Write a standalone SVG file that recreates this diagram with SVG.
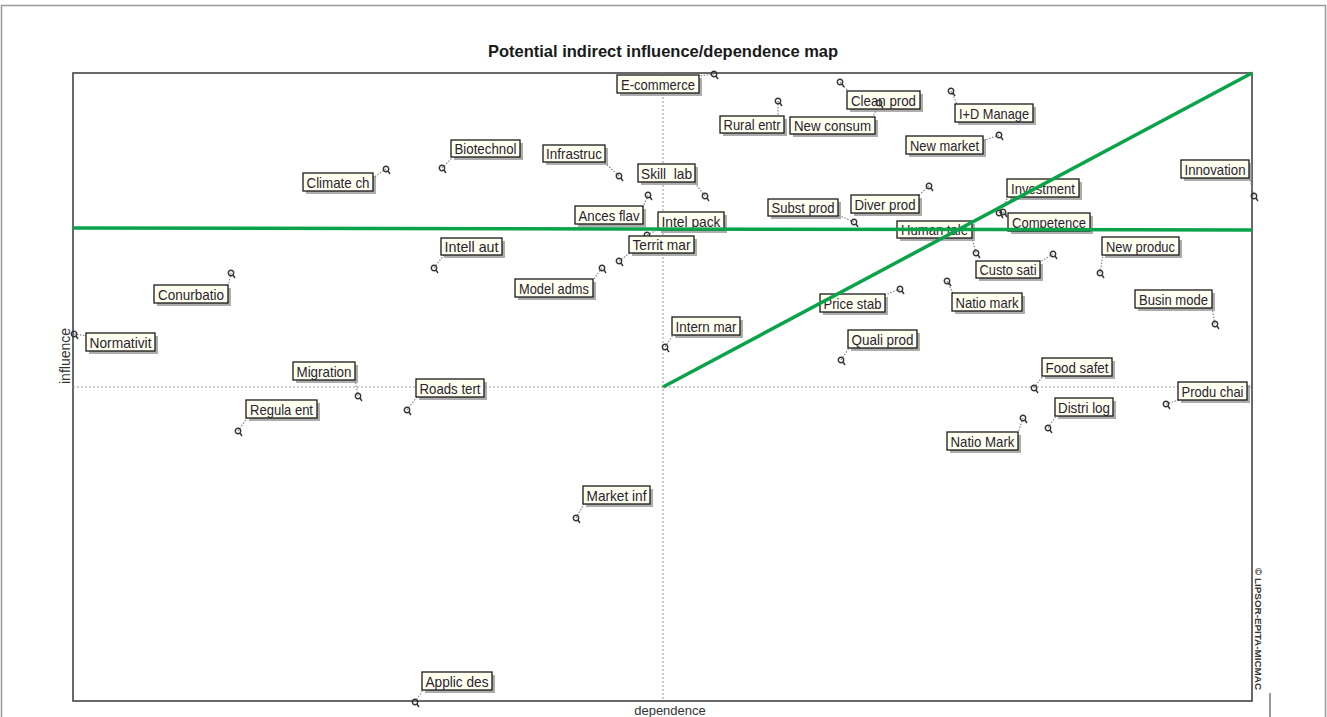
<svg xmlns="http://www.w3.org/2000/svg" width="1327" height="717" viewBox="0 0 1327 717">
<style>
.bx{fill:#fffff0;stroke:#1a1a1a;stroke-width:1.3}
.sh{fill:#8a8a8a;opacity:0.7}
.lb{font-family:"Liberation Sans",Arial,sans-serif;font-size:15px;fill:#2a2230;text-anchor:middle}
.pin{fill:none;stroke:#333;stroke-width:1.4}
.ld{stroke:#888;stroke-width:1.2;stroke-dasharray:1.5,1.5;fill:none}
.grid{stroke:#999;stroke-width:1;stroke-dasharray:2,2}
.green{stroke:#0aa34a;stroke-width:3.5;fill:none}
.ax{font-family:"Liberation Sans",Arial,sans-serif;fill:#333}
</style>
<defs>
<g id="pin"><circle class="pin" cx="0" cy="0" r="2.7"/><line class="pin" x1="2" y1="2" x2="4" y2="5"/></g>
</defs>
<rect width="1327" height="717" fill="#ffffff"/>
<g id="page">
<path d="M1.5 717 V5.5 H1325.5 V717" fill="none" stroke="#999" stroke-width="1.5"/>
<line x1="1270" y1="693" x2="1270" y2="717" stroke="#333" stroke-width="1"/>
<text x="663" y="57" text-anchor="middle" font-family="Liberation Sans,Arial,sans-serif" font-size="16.5" font-weight="bold" fill="#1a1a1a">Potential indirect influence/dependence map</text>
<rect x="73" y="73" width="1179" height="628" fill="none" stroke="#444" stroke-width="1.6"/>
<line class="grid" x1="663" y1="73" x2="663" y2="701"/>
<line class="grid" x1="73" y1="387" x2="1252" y2="387"/>
<text class="ax" transform="translate(70,356) rotate(-90)" text-anchor="middle" font-size="14">influence</text>
<text class="ax" x="670" y="715" text-anchor="middle" font-size="13">dependence</text>
<text transform="translate(1255,568) rotate(90)" font-family="Liberation Sans,Arial,sans-serif" font-size="9" font-weight="bold" fill="#333" textLength="122" lengthAdjust="spacingAndGlyphs">© LIPSOR-EPITA-MICMAC</text>
</g>
<g id="connectors">
<line class="ld" x1="714" y1="74" x2="699" y2="76"/>
<line class="ld" x1="840" y1="82" x2="848" y2="91"/>
<line class="ld" x1="778" y1="101" x2="778" y2="116"/>
<line class="ld" x1="879" y1="103" x2="873" y2="117"/>
<line class="ld" x1="951" y1="91" x2="957" y2="104"/>
<line class="ld" x1="999" y1="135" x2="983" y2="141"/>
<line class="ld" x1="442" y1="168" x2="453" y2="157"/>
<line class="ld" x1="619" y1="176" x2="604" y2="162"/>
<line class="ld" x1="386" y1="169" x2="373" y2="178"/>
<line class="ld" x1="705" y1="196" x2="694" y2="182"/>
<line class="ld" x1="648" y1="195" x2="643" y2="207"/>
<line class="ld" x1="647" y1="235" x2="659" y2="229"/>
<line class="ld" x1="619" y1="261" x2="630" y2="253"/>
<line class="ld" x1="434" y1="268" x2="444" y2="255"/>
<line class="ld" x1="602" y1="268" x2="593" y2="280"/>
<line class="ld" x1="854" y1="222" x2="838" y2="215"/>
<line class="ld" x1="929" y1="186" x2="918" y2="196"/>
<line class="ld" x1="976" y1="253" x2="972" y2="238"/>
<line class="ld" x1="999" y1="213" x2="1008" y2="197"/>
<line class="ld" x1="1003" y1="212" x2="1008" y2="215"/>
<line class="ld" x1="1254" y1="196" x2="1250" y2="178"/>
<line class="ld" x1="1100" y1="273" x2="1103" y2="255"/>
<line class="ld" x1="1053" y1="254" x2="1040" y2="262"/>
<line class="ld" x1="947" y1="281" x2="953" y2="293"/>
<line class="ld" x1="900" y1="289" x2="885" y2="295"/>
<line class="ld" x1="841" y1="360" x2="849" y2="348"/>
<line class="ld" x1="1215" y1="324" x2="1212" y2="308"/>
<line class="ld" x1="1034" y1="388" x2="1043" y2="376"/>
<line class="ld" x1="1166" y1="404" x2="1179" y2="400"/>
<line class="ld" x1="1048" y1="428" x2="1056" y2="416"/>
<line class="ld" x1="1023" y1="418" x2="1018" y2="433"/>
<line class="ld" x1="665" y1="347" x2="673" y2="335"/>
<line class="ld" x1="231" y1="273" x2="228" y2="286"/>
<line class="ld" x1="74" y1="334" x2="87" y2="336"/>
<line class="ld" x1="358" y1="396" x2="355" y2="380"/>
<line class="ld" x1="238" y1="431" x2="247" y2="418"/>
<line class="ld" x1="407" y1="410" x2="417" y2="397"/>
<line class="ld" x1="576" y1="518" x2="584" y2="504"/>
<line class="ld" x1="415" y1="702" x2="423" y2="690"/>
</g>
<g id="nodes">
<g id="n-ecommerce"><use href="#pin" x="714" y="74"/><rect class="sh" x="620" y="78" width="82" height="18"/><rect class="bx" x="617" y="75" width="82" height="18"/><text class="lb" x="658" y="89.5" textLength="74" lengthAdjust="spacingAndGlyphs">E-commerce</text></g>
<g id="n-cleanprod"><use href="#pin" x="840" y="82"/><rect class="sh" x="850" y="94" width="73" height="18"/><rect class="bx" x="847" y="91" width="73" height="18"/><text class="lb" x="883.5" y="105.5" textLength="65" lengthAdjust="spacingAndGlyphs">Clean prod</text></g>
<g id="n-ruralentr"><use href="#pin" x="778" y="101"/><rect class="sh" x="723" y="119" width="64" height="17"/><rect class="bx" x="720" y="116" width="64" height="17"/><text class="lb" x="752" y="130" textLength="57" lengthAdjust="spacingAndGlyphs">Rural entr</text></g>
<g id="n-newconsum"><use href="#pin" x="879" y="103"/><rect class="sh" x="793" y="120" width="85" height="17"/><rect class="bx" x="790" y="117" width="85" height="17"/><text class="lb" x="832.5" y="131" textLength="77" lengthAdjust="spacingAndGlyphs">New consum</text></g>
<g id="n-idmanage"><use href="#pin" x="951" y="91"/><rect class="sh" x="958" y="107" width="78" height="18"/><rect class="bx" x="955" y="104" width="78" height="18"/><text class="lb" x="994" y="118.5" textLength="70" lengthAdjust="spacingAndGlyphs">I+D Manage</text></g>
<g id="n-newmarket"><use href="#pin" x="999" y="135"/><rect class="sh" x="909" y="139" width="77" height="18"/><rect class="bx" x="906" y="136" width="77" height="18"/><text class="lb" x="944.5" y="150.5" textLength="69" lengthAdjust="spacingAndGlyphs">New market</text></g>
<g id="n-biotechnol"><use href="#pin" x="442" y="168"/><rect class="sh" x="454" y="143" width="69" height="17"/><rect class="bx" x="451" y="140" width="69" height="17"/><text class="lb" x="485.5" y="154" textLength="62" lengthAdjust="spacingAndGlyphs">Biotechnol</text></g>
<g id="n-infrastruc"><use href="#pin" x="619" y="176"/><rect class="sh" x="546" y="148" width="62" height="17"/><rect class="bx" x="543" y="145" width="62" height="17"/><text class="lb" x="574" y="159" textLength="56" lengthAdjust="spacingAndGlyphs">Infrastruc</text></g>
<g id="n-climatech"><use href="#pin" x="386" y="169"/><rect class="sh" x="306" y="176" width="70" height="18"/><rect class="bx" x="303" y="173" width="70" height="18"/><text class="lb" x="338" y="187.5" textLength="63" lengthAdjust="spacingAndGlyphs">Climate ch</text></g>
<g id="n-skilllab"><use href="#pin" x="705" y="196"/><rect class="sh" x="641" y="167" width="57" height="18"/><rect class="bx" x="638" y="164" width="57" height="18"/><text class="lb" x="666.5" y="178.5" textLength="51" lengthAdjust="spacingAndGlyphs" xml:space="preserve">Skill  lab</text></g>
<g id="n-ancesflav"><use href="#pin" x="648" y="195"/><rect class="sh" x="578" y="209" width="68" height="18"/><rect class="bx" x="575" y="206" width="68" height="18"/><text class="lb" x="609" y="220.5" textLength="61" lengthAdjust="spacingAndGlyphs">Ances flav</text></g>
<g id="n-intelpack"><use href="#pin" x="647" y="235"/><rect class="sh" x="661" y="215" width="66" height="18"/><rect class="bx" x="658" y="212" width="66" height="18"/><text class="lb" x="691" y="226.5" textLength="59" lengthAdjust="spacingAndGlyphs">Intel pack</text></g>
<g id="n-territmar"><use href="#pin" x="619" y="261"/><rect class="sh" x="632" y="239" width="65" height="17"/><rect class="bx" x="629" y="236" width="65" height="17"/><text class="lb" x="661.5" y="250" textLength="58" lengthAdjust="spacingAndGlyphs">Territ mar</text></g>
<g id="n-intellaut"><use href="#pin" x="434" y="268"/><rect class="sh" x="444" y="241" width="61" height="17"/><rect class="bx" x="441" y="238" width="61" height="17"/><text class="lb" x="471.5" y="252" textLength="54" lengthAdjust="spacingAndGlyphs">Intell aut</text></g>
<g id="n-modeladms"><use href="#pin" x="602" y="268"/><rect class="sh" x="518" y="282" width="78" height="18"/><rect class="bx" x="515" y="279" width="78" height="18"/><text class="lb" x="554" y="293.5" textLength="70" lengthAdjust="spacingAndGlyphs">Model adms</text></g>
<g id="n-substprod"><use href="#pin" x="854" y="222"/><rect class="sh" x="771" y="202" width="70" height="17"/><rect class="bx" x="768" y="199" width="70" height="17"/><text class="lb" x="803" y="213" textLength="63" lengthAdjust="spacingAndGlyphs">Subst prod</text></g>
<g id="n-diverprod"><use href="#pin" x="929" y="186"/><rect class="sh" x="854" y="198" width="68" height="18"/><rect class="bx" x="851" y="195" width="68" height="18"/><text class="lb" x="885" y="209.5" textLength="61" lengthAdjust="spacingAndGlyphs">Diver prod</text></g>
<g id="n-humantale"><use href="#pin" x="976" y="253"/><rect class="sh" x="900" y="224" width="75" height="17"/><rect class="bx" x="897" y="221" width="75" height="17"/><text class="lb" x="934.5" y="235" textLength="67" lengthAdjust="spacingAndGlyphs">Human tale</text></g>
<g id="n-investment"><use href="#pin" x="999" y="213"/><rect class="sh" x="1010" y="182" width="72" height="18"/><rect class="bx" x="1007" y="179" width="72" height="18"/><text class="lb" x="1043" y="193.5" textLength="64" lengthAdjust="spacingAndGlyphs">Investment</text></g>
<g id="n-competence"><use href="#pin" x="1003" y="212"/><rect class="sh" x="1011" y="216" width="82" height="18"/><rect class="bx" x="1008" y="213" width="82" height="18"/><text class="lb" x="1049" y="227.5" textLength="74" lengthAdjust="spacingAndGlyphs">Competence</text></g>
<g id="n-innovation"><use href="#pin" x="1254" y="196"/><rect class="sh" x="1184" y="163" width="68" height="18"/><rect class="bx" x="1181" y="160" width="68" height="18"/><text class="lb" x="1215" y="174.5" textLength="61" lengthAdjust="spacingAndGlyphs">Innovation</text></g>
<g id="n-newproduc"><use href="#pin" x="1100" y="273"/><rect class="sh" x="1105" y="240" width="77" height="18"/><rect class="bx" x="1102" y="237" width="77" height="18"/><text class="lb" x="1140.5" y="251.5" textLength="69" lengthAdjust="spacingAndGlyphs">New produc</text></g>
<g id="n-custosati"><use href="#pin" x="1053" y="254"/><rect class="sh" x="979" y="264" width="64" height="17"/><rect class="bx" x="976" y="261" width="64" height="17"/><text class="lb" x="1008" y="275" textLength="57" lengthAdjust="spacingAndGlyphs">Custo sati</text></g>
<g id="n-natiomark"><use href="#pin" x="947" y="281"/><rect class="sh" x="955" y="296" width="70" height="18"/><rect class="bx" x="952" y="293" width="70" height="18"/><text class="lb" x="987" y="307.5" textLength="63" lengthAdjust="spacingAndGlyphs">Natio mark</text></g>
<g id="n-pricestab"><use href="#pin" x="900" y="289"/><rect class="sh" x="823" y="297" width="65" height="18"/><rect class="bx" x="820" y="294" width="65" height="18"/><text class="lb" x="852.5" y="308.5" textLength="58" lengthAdjust="spacingAndGlyphs">Price stab</text></g>
<g id="n-qualiprod"><use href="#pin" x="841" y="360"/><rect class="sh" x="851" y="333" width="69" height="18"/><rect class="bx" x="848" y="330" width="69" height="18"/><text class="lb" x="882.5" y="344.5" textLength="62" lengthAdjust="spacingAndGlyphs">Quali prod</text></g>
<g id="n-businmode"><use href="#pin" x="1215" y="324"/><rect class="sh" x="1138" y="293" width="77" height="18"/><rect class="bx" x="1135" y="290" width="77" height="18"/><text class="lb" x="1173.5" y="304.5" textLength="69" lengthAdjust="spacingAndGlyphs">Busin mode</text></g>
<g id="n-foodsafet"><use href="#pin" x="1034" y="388"/><rect class="sh" x="1045" y="361" width="70" height="18"/><rect class="bx" x="1042" y="358" width="70" height="18"/><text class="lb" x="1077" y="372.5" textLength="63" lengthAdjust="spacingAndGlyphs">Food safet</text></g>
<g id="n-produchai"><use href="#pin" x="1166" y="404"/><rect class="sh" x="1181" y="385" width="69" height="18"/><rect class="bx" x="1178" y="382" width="69" height="18"/><text class="lb" x="1212.5" y="396.5" textLength="62" lengthAdjust="spacingAndGlyphs">Produ chai</text></g>
<g id="n-distrilog"><use href="#pin" x="1048" y="428"/><rect class="sh" x="1058" y="401" width="58" height="18"/><rect class="bx" x="1055" y="398" width="58" height="18"/><text class="lb" x="1084" y="412.5" textLength="52" lengthAdjust="spacingAndGlyphs">Distri log</text></g>
<g id="n-natiomark2"><use href="#pin" x="1023" y="418"/><rect class="sh" x="950" y="435" width="71" height="18"/><rect class="bx" x="947" y="432" width="71" height="18"/><text class="lb" x="982.5" y="446.5" textLength="64" lengthAdjust="spacingAndGlyphs">Natio Mark</text></g>
<g id="n-internmar"><use href="#pin" x="665" y="347"/><rect class="sh" x="675" y="320" width="68" height="18"/><rect class="bx" x="672" y="317" width="68" height="18"/><text class="lb" x="706" y="331.5" textLength="61" lengthAdjust="spacingAndGlyphs">Intern mar</text></g>
<g id="n-conurbatio"><use href="#pin" x="231" y="273"/><rect class="sh" x="157" y="288" width="74" height="18"/><rect class="bx" x="154" y="285" width="74" height="18"/><text class="lb" x="191" y="299.5" textLength="66" lengthAdjust="spacingAndGlyphs">Conurbatio</text></g>
<g id="n-normativit"><use href="#pin" x="74" y="334"/><rect class="sh" x="89" y="336" width="69" height="18"/><rect class="bx" x="86" y="333" width="69" height="18"/><text class="lb" x="120.5" y="347.5" textLength="62" lengthAdjust="spacingAndGlyphs">Normativit</text></g>
<g id="n-migration"><use href="#pin" x="358" y="396"/><rect class="sh" x="296" y="365" width="62" height="18"/><rect class="bx" x="293" y="362" width="62" height="18"/><text class="lb" x="324" y="376.5" textLength="55" lengthAdjust="spacingAndGlyphs">Migration</text></g>
<g id="n-regulaent"><use href="#pin" x="238" y="431"/><rect class="sh" x="249" y="403" width="71" height="18"/><rect class="bx" x="246" y="400" width="71" height="18"/><text class="lb" x="281.5" y="414.5" textLength="63" lengthAdjust="spacingAndGlyphs">Regula ent</text></g>
<g id="n-roadstert"><use href="#pin" x="407" y="410"/><rect class="sh" x="419" y="382" width="68" height="18"/><rect class="bx" x="416" y="379" width="68" height="18"/><text class="lb" x="450" y="393.5" textLength="61" lengthAdjust="spacingAndGlyphs">Roads tert</text></g>
<g id="n-marketinf"><use href="#pin" x="576" y="518"/><rect class="sh" x="586" y="489" width="67" height="18"/><rect class="bx" x="583" y="486" width="67" height="18"/><text class="lb" x="616.5" y="500.5" textLength="60" lengthAdjust="spacingAndGlyphs">Market inf</text></g>
<g id="n-applicdes"><use href="#pin" x="415" y="702"/><rect class="sh" x="425" y="675" width="70" height="18"/><rect class="bx" x="422" y="672" width="70" height="18"/><text class="lb" x="457" y="686.5" textLength="63" lengthAdjust="spacingAndGlyphs">Applic des</text></g>
</g>
<g id="green-lines">
<line class="green" x1="73" y1="228" x2="1252" y2="230"/>
<line class="green" x1="663" y1="387" x2="1252" y2="73"/>
</g>
</svg>
